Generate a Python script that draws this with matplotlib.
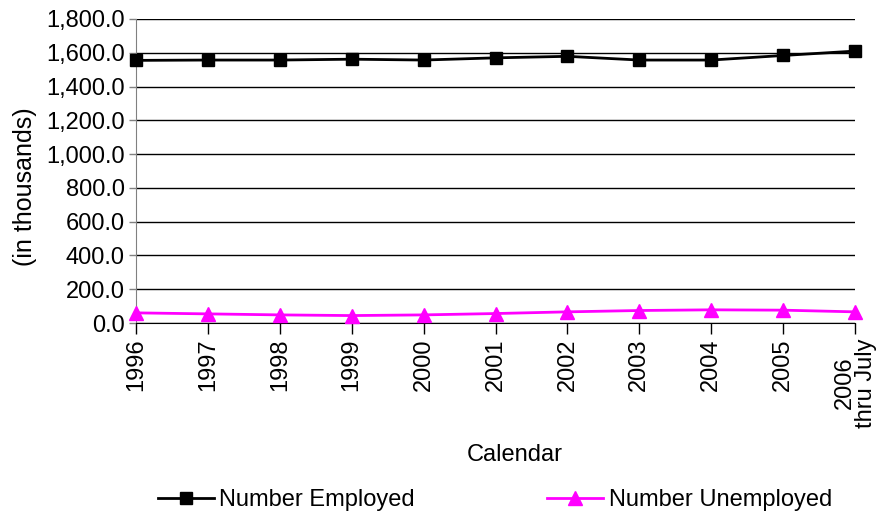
import matplotlib
matplotlib.use("Agg")
import matplotlib.pyplot as plt
from matplotlib.ticker import FuncFormatter

plt.rcParams['font.family'] = ['Liberation Sans', 'DejaVu Sans']

categories = ["1996", "1997", "1998", "1999", "2000", "2001", "2002", "2003", "2004", "2005", "2006\nthru July"]
employed = [1555, 1557, 1557, 1562, 1557, 1570, 1579, 1557, 1557, 1584, 1610]
unemployed = [60, 54, 48, 44, 48, 56, 66, 74, 78, 76, 66]
yticks = [0, 200, 400, 600, 800, 1000, 1200, 1400, 1600, 1800]

fig = plt.figure(figsize=(8.76, 5.17), dpi=100)
ax = fig.add_axes([136/876, 1 - 323/517, (855-136)/876, (323-19)/517])

x = list(range(len(categories)))
ax.plot(x, employed, color='black', lw=2, marker='s', ms=8.5, label='Number Employed', clip_on=False, zorder=3)
ax.plot(x, unemployed, color='#FF00FF', lw=2, marker='^', ms=10, label='Number Unemployed', clip_on=False, zorder=3)

ax.set_xlim(0, len(categories) - 1)
ax.set_ylim(0, 1800)
ax.set_yticks(yticks)
ax.yaxis.set_major_formatter(FuncFormatter(lambda v, p: f"{v:,.1f}"))
ax.set_xticks(x)
ax.set_xticklabels(categories, rotation=90, ha='center', va='top', multialignment='center', linespacing=0.95)
ax.tick_params(axis='both', labelsize=17, direction='out', colors='black')
ax.tick_params(axis='x', length=8, width=1, pad=3)
ax.tick_params(axis='y', length=5, width=1, color='#808080', pad=3)
ax.grid(axis='y', color='black', lw=1)
ax.set_axisbelow(True)
for s in ['top', 'right']:
    ax.spines[s].set_visible(False)
ax.spines['left'].set_color('#808080')
ax.spines['bottom'].set_color('black')

fig.text(25/876, 1 - 187/517, '(in thousands)', fontsize=18, rotation=90, ha='center', va='center')
fig.text(515/876, 1 - 455/517, 'Calendar', fontsize=17, ha='center', va='center')

fig.legend(loc='center', bbox_to_anchor=(495/876, 1 - 500/517), ncol=2, frameon=False,
           fontsize=17, handlelength=2.35, columnspacing=5.6, handletextpad=0.25, borderpad=0)

fig.savefig('out.png', dpi=100)
